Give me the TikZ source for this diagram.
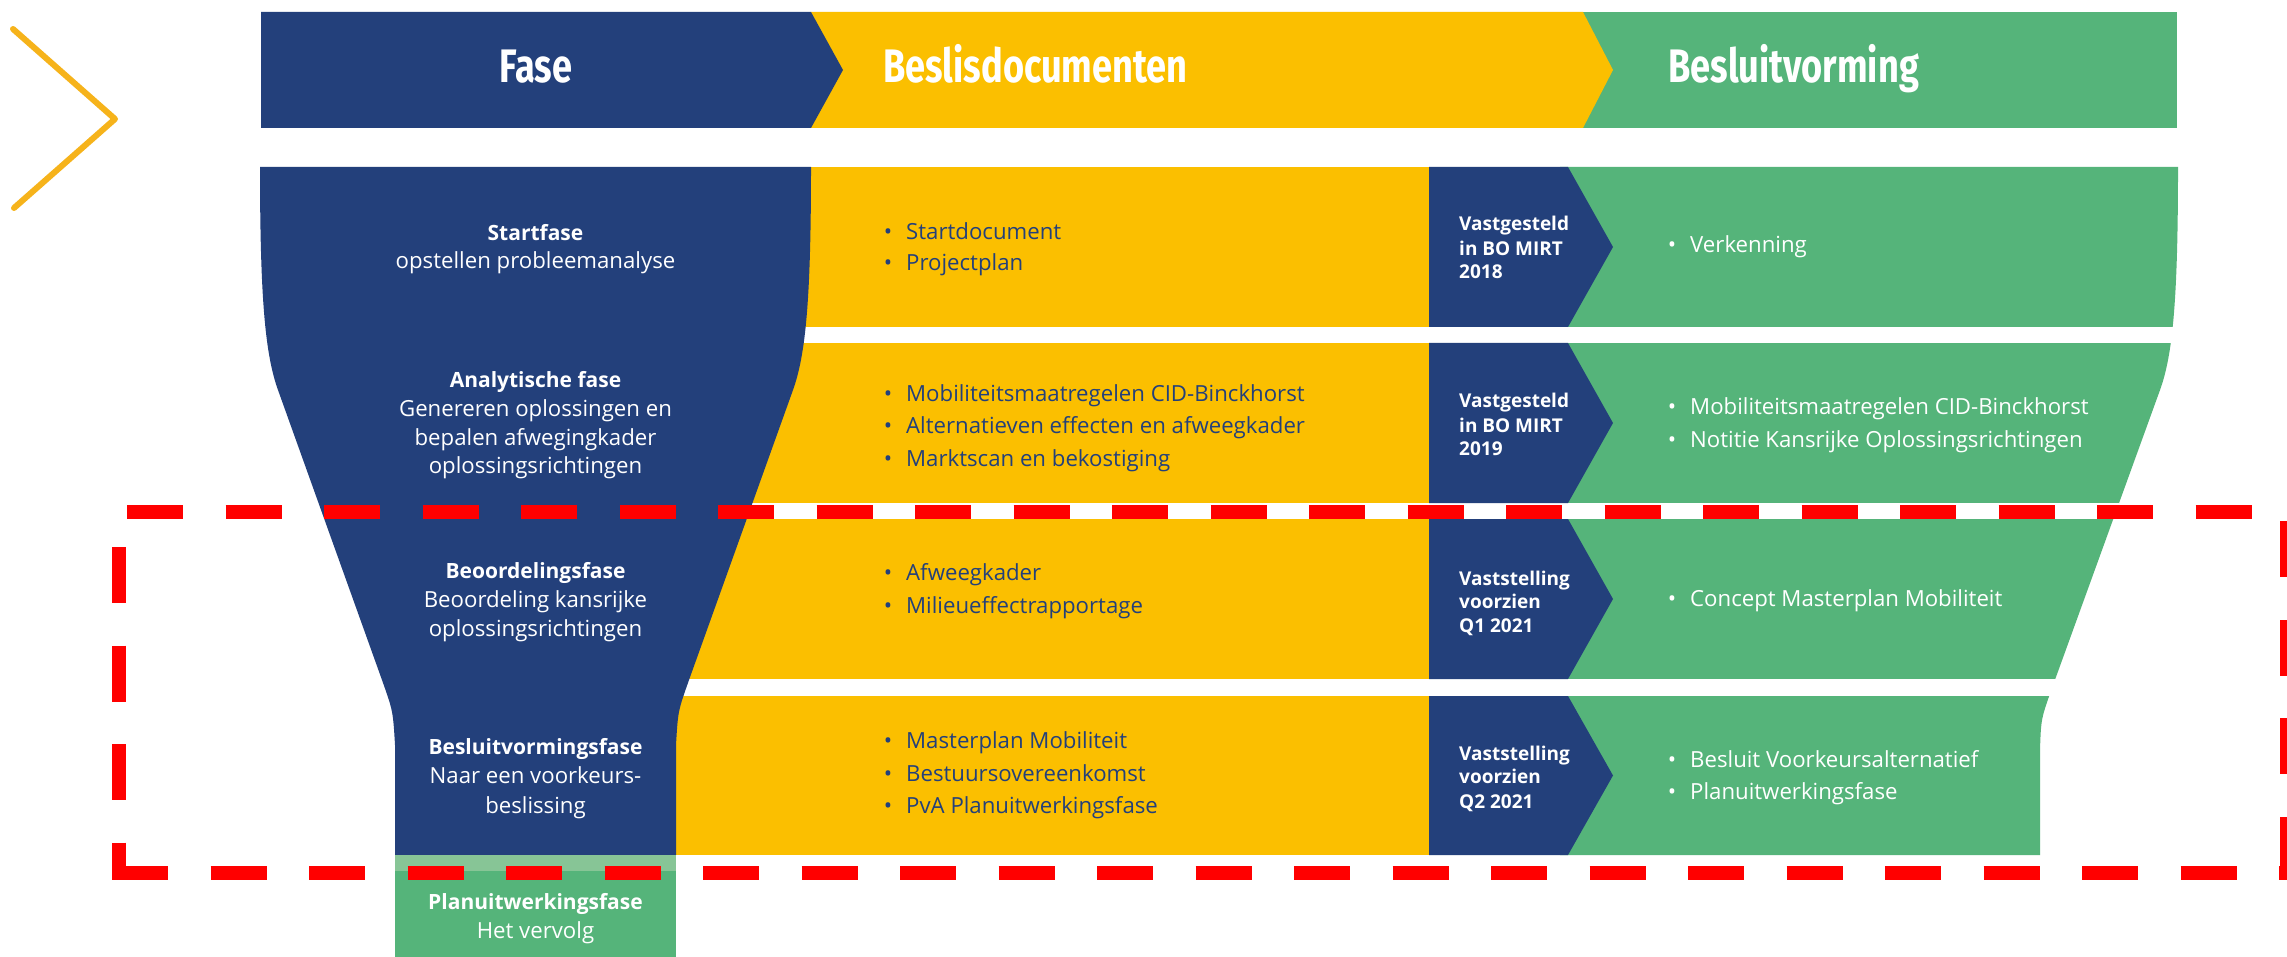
\documentclass[tikz,border=0pt]{standalone}
\usepackage{fontspec}
\setmainfont{Open Sans}
\newfontfamily\headfont[FakeStretch=0.77]{Fira Sans}
\definecolor{navy}{HTML}{23407B}
\definecolor{gold}{HTML}{FBBF00}
\definecolor{leaf}{HTML}{55B47A}
\definecolor{paleleaf}{HTML}{87C596}
\definecolor{chev}{HTML}{F6B31B}
\definecolor{alarm}{HTML}{FF0000}
\tikzset{
  headtxt/.style={white, inner sep=0, font=\headfont\bfseries\fontsize{47}{50}\selectfont},
  fun/.style={white, anchor=base, inner sep=0, font=\fontsize{22.2}{26}\selectfont},
  funb/.style={fun, font=\bfseries\fontsize{21}{26}\selectfont},
  doc/.style={navy, anchor=base west, inner sep=0, font=\fontsize{22.2}{26}\selectfont},
  dec/.style={white, anchor=base west, inner sep=0, font=\fontsize{22.2}{26}\selectfont},
  stamp/.style={white, anchor=base west, inner sep=0, font=\bfseries\fontsize{19}{22}\selectfont},
  reddash/.style={alarm, line width=14pt, dash pattern=on 56pt off 42.5pt}
}
\newcommand\bul{\llap{•\hspace{14pt}}}
\begin{document}
\begin{tikzpicture}[x=1pt,y=-1pt]
\useasboundingbox (0,0) rectangle (2287,957);
\fill[white] (0,0) rectangle (2287,957);
% top-left chevron
\draw[chev, line width=6pt, line cap=round, line join=round] (13,29) -- (115,119) -- (14,208);
% header
\fill[leaf] (1583,12) -- (2177,12) -- (2177,128) -- (1583,128) -- cycle;
\fill[gold] (811,12) -- (1583,12) -- (1613,70) -- (1583,128) -- (811,128) -- cycle;
\fill[navy] (261,12) -- (811,12) -- (843,70) -- (811,128) -- (261,128) -- cycle;
\node[headtxt, anchor=base] (hfase) at (536,83) {Fase};
\node[headtxt, anchor=base west] (hdoc) at (883,83) {Beslisdocumenten};
\node[headtxt, anchor=base west] (hbes) at (1668,83) {Besluitvorming};
% green region (right funnel edge)
\fill[leaf] (1560,167) -- (2178,167) .. controls (2178,300) and (2172.7,355) .. (2160,390) -- (2052,688) .. controls (2041,719) .. (2040,750) -- (2040,855) -- (1560,855) -- cycle;
\foreach \ya/\yb in {327/343, 503/519, 679/696}
  \fill[white] (1400,\ya) rectangle (2300,\yb);
% yellow rows and navy chevrons
\foreach \ya/\yb in {167/327, 343/503, 519/679, 696/855}{
  \fill[gold] (560,\ya) rectangle (1430,\yb);
  \fill[navy] (1429,\ya) -- (1568,\ya) -- (1613,{(\ya+\yb)/2}) -- (1568,\yb) -- (1429,\yb) -- cycle;
}
% funnel
\fill[navy] (260,167) -- (811,167) .. controls (811,300) and (805.6,355) .. (793,390) -- (689,680) .. controls (678,711) .. (676,745) -- (676,855) -- (395,855) -- (395,745) .. controls (393,711) .. (382,680) -- (278,390) .. controls (265.4,355) and (260,300) .. (260,167) -- cycle;
% planuitwerking box
\fill[leaf] (395,855) rectangle (676,957);
\fill[paleleaf] (395,855) rectangle (676,871);
% funnel texts
\node[funb] (f1a) at (535.5,241) {Startfase};
\node[fun] (f1b) at (535.5,269) {opstellen probleemanalyse};
\node[funb] (f2a) at (535.5,388) {Analytische fase};
\node[fun] (f2b) at (535.5,417) {Genereren oplossingen en};
\node[fun] (f2c) at (535.5,446) {bepalen afwegingkader};
\node[fun] (f2d) at (535.5,474) {oplossingsrichtingen};
\node[funb] (f3a) at (535.5,578) {Beoordelingsfase};
\node[fun] (f3b) at (535.5,607) {Beoordeling kansrijke};
\node[fun] (f3c) at (535.5,636) {oplossingsrichtingen};
\node[funb] (f4a) at (535.5,754) {Besluitvormingsfase};
\node[fun] (f4b) at (535.5,783) {Naar een voorkeurs-};
\node[fun] (f4c) at (535.5,813) {beslissing};
\node[funb] (f5a) at (535.5,909) {Planuitwerkingsfase};
\node[fun] (f5b) at (535.5,938) {Het vervolg};
% documents
\node[doc] (d1a) at (906,240) {\bul Startdocument};
\node[doc] (d1b) at (906,271) {\bul Projectplan};
\node[doc] (d2a) at (906,402) {\bul Mobiliteitsmaatregelen CID-Binckhorst};
\node[doc] (d2b) at (906,434) {\bul Alternatieven effecten en afweegkader};
\node[doc] (d2c) at (906,466) {\bul Marktscan en bekostiging};
\node[doc] (d3a) at (906,580) {\bul Afweegkader};
\node[doc] (d3b) at (906,613) {\bul Milieueffectrapportage};
\node[doc] (d4a) at (906,748) {\bul Masterplan Mobiliteit};
\node[doc] (d4b) at (906,781) {\bul Bestuursovereenkomst};
\node[doc] (d4c) at (906,813) {\bul PvA Planuitwerkingsfase};
% stamps
\node[stamp] (s1a) at (1459,231) {Vastgesteld};
\node[stamp] (s1b) at (1459,256) {in BO MIRT};
\node[stamp] (s1c) at (1459,279) {2018};
\node[stamp] (s2a) at (1459,408) {Vastgesteld};
\node[stamp] (s2b) at (1459,432) {in BO MIRT};
\node[stamp] (s2c) at (1459,455) {2019};
\node[stamp] (s3a) at (1459,585) {Vaststelling};
\node[stamp] (s3b) at (1459,608) {voorzien};
\node[stamp] (s3c) at (1459,632) {Q1 2021};
\node[stamp] (s4a) at (1459,760) {Vaststelling};
\node[stamp] (s4b) at (1459,783) {voorzien};
\node[stamp] (s4c) at (1459,808) {Q2 2021};
% decisions
\node[dec] (b1a) at (1690,253) {\bul Verkenning};
\node[dec] (b2a) at (1690,415) {\bul Mobiliteitsmaatregelen CID-Binckhorst};
\node[dec] (b2b) at (1690,447) {\bul Notitie Kansrijke Oplossingsrichtingen};
\node[dec] (b3a) at (1690,606) {\bul Concept Masterplan Mobiliteit};
\node[dec] (b4a) at (1690,767) {\bul Besluit Voorkeursalternatief};
\node[dec] (b4b) at (1690,799) {\bul Planuitwerkingsfase};
% red dashed frame
\draw[reddash] (127,512) -- (2300,512);
\draw[reddash] (119,547) -- (119,873);
\draw[reddash] (112,873) -- (2300,873);
\draw[reddash] (2287,521) -- (2287,873);
\end{tikzpicture}
\end{document}
